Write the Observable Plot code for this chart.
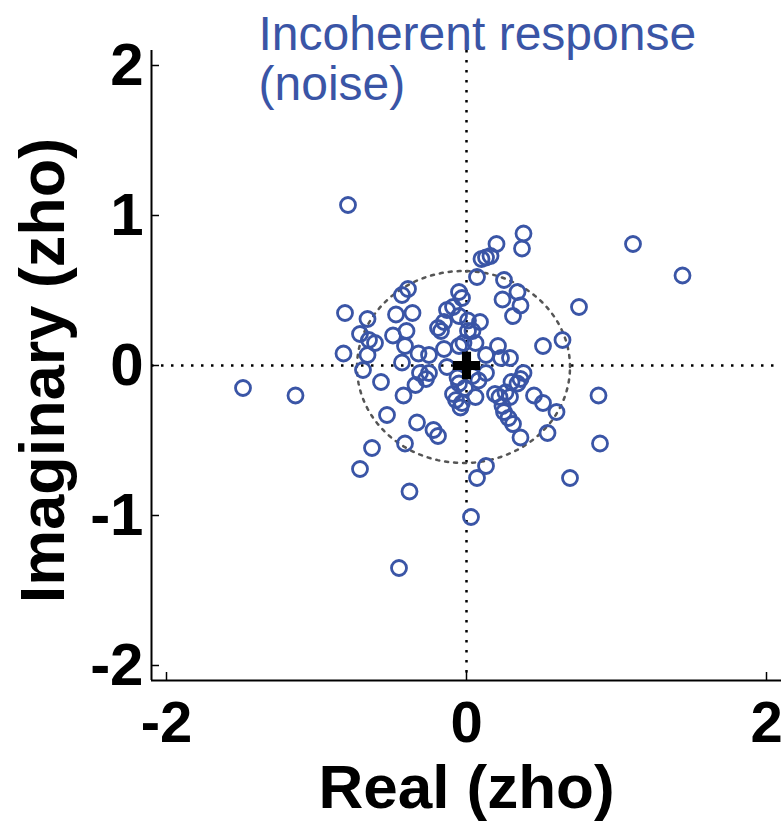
<!DOCTYPE html>
<html>
<head>
<meta charset="utf-8">
<script src="https://cdn.jsdelivr.net/npm/d3@7"></script>
<script src="https://cdn.jsdelivr.net/npm/@observablehq/plot@0.6"></script>
<style>
  html, body { margin: 0; padding: 0; background: #fff; }
</style>
</head>
<body>
<div id="chart"></div>
<script>
// Real and imaginary parts of each noise response (zho)
const re = [
  -0.79, -1.49, -1.14, 0.38, 0.37, 1.11, 1.44, 0.75, 0.88, 0.89,
  0.69, -0.38, 0.03, -0.45, -0.71, 0.07, 0.13, -0.81, -0.82, -0.39,
  -0.43, -0.66, -0.47, -0.36, -0.71, -0.49, -0.40, -0.65, -0.61, -0.41,
  -0.66, -0.32, -0.43, -0.69, -0.19, -0.15, -0.13, -0.09, -0.05, -0.03,
  -0.05, -0.15, 0.20, 0.10, 0.13, 0.16, 0.07, 0.25, 0.34, 0.24,
  0.36, 0.31, 0.09, 0.04, 0.01, 0.64, 0.51, 0.21, 0.29, 0.13,
  0.38, 0.30, 0.34, 0.36, 0.22, 0.45, 0.51, 0.60, 0.25, 0.28,
  0.31, 0.36, 0.54, -0.57, -0.42, -0.34, -0.27, -0.31, -0.25, -0.53,
  -0.33, -0.22, -0.19, -0.41, -0.63, -0.09, -0.07, -0.04, -0.05, -0.17,
  0.01, -0.05, -0.02, 0.06, 0.23, -0.25, -0.06, 0.04, 0.08, 0.13,
  -0.01, -0.03, 0.06, 0.26, 0.29, 0.24, -0.13, 0.19
];
const im = [
  1.07, -0.15, -0.20, 0.88, 0.78, 0.81, 0.60, 0.39, -0.20, -0.52,
  -0.75, -0.84, -1.01, -1.35, -0.69, -0.75, -0.67, 0.35, 0.08, 0.51,
  0.47, 0.31, 0.34, 0.35, 0.21, 0.20, 0.23, 0.17, 0.15, 0.13,
  0.07, 0.08, 0.02, -0.03, 0.25, 0.29, 0.37, 0.39, 0.49, 0.45,
  0.33, 0.11, 0.81, 0.71, 0.72, 0.73, 0.59, 0.57, 0.49, 0.44,
  0.40, 0.33, 0.29, 0.23, 0.30, 0.17, 0.13, 0.13, 0.05, 0.07,
  -0.05, -0.11, -0.12, -0.09, -0.21, -0.20, -0.25, -0.31, -0.31, -0.35,
  -0.39, -0.48, -0.45, -0.11, -0.20, -0.13, -0.09, -0.05, -0.05, -0.33,
  -0.38, -0.43, -0.47, -0.52, -0.55, -0.19, -0.23, -0.28, -0.12, 0.23,
  0.23, 0.13, 0.15, 0.15, 0.05, 0.07, -0.08, -0.07, -0.10, -0.05,
  -0.15, -0.25, -0.21, -0.18, -0.21, -0.27, -0.01, -0.19
];

// Mean response, marked with the black plus
const meanRe = [0];
const meanIm = [0];

// Spread ellipse around the mean (semi-axes in zho)
const ellipseCenter = [-0.02, -0.01];
const ellipseRadii = [0.71, 0.64];

// Axes
const xLimits = [-2.1, 2.1];
const yLimits = [-2.1, 2.1];
const xTicks = [-2, 0, 2];
const yTicks = [-2, -1, 0, 1, 2];
const xLabel = "Real (zho)";
const yLabel = "Imaginary (zho)";
const titleLines = ["Incoherent response", "(noise)"];

const blue = "#3a55a6";
const font = "'Liberation Sans', Arial, Helvetica, sans-serif";

const points = re.map((x, i) => ({x, y: im[i]}));
const mean = meanRe.map((x, i) => ({x, y: meanIm[i]}));
const ellipse = d3.range(0, 361, 2).map(deg => {
  const t = deg * Math.PI / 180;
  return {x: ellipseCenter[0] + ellipseRadii[0] * Math.cos(t),
          y: ellipseCenter[1] + ellipseRadii[1] * Math.sin(t)};
});

const chart = Plot.plot({
  width: 783,
  height: 822,
  marginLeft: 151,
  marginRight: 2,
  marginTop: 50,
  marginBottom: 142,
  style: {fontFamily: font, background: "#fff"},
  x: {domain: xLimits},
  y: {domain: yLimits},
  marks: [
    // dotted zero lines
    Plot.ruleY([0], {stroke: "#000", strokeWidth: 2.5, strokeDasharray: "2.5,7.5"}),
    Plot.ruleX([0], {stroke: "#000", strokeWidth: 2.5, strokeDasharray: "2.5,7.5"}),
    // spread ellipse
    Plot.line(ellipse, {x: "x", y: "y", stroke: "#555", strokeWidth: 2.5, strokeDasharray: "3,6"}),
    // individual responses
    Plot.dot(points, {x: "x", y: "y", r: 7.5, stroke: blue, strokeWidth: 2.8, fill: "none"}),
    // mean
    Plot.dot(mean, {x: "x", y: "y", symbol: "cross", r: 11.5, fill: "#000", stroke: null}),
    // axis lines
    Plot.ruleX([xLimits[0]], {stroke: "#000", strokeWidth: 2}),
    Plot.ruleY([yLimits[0]], {stroke: "#000", strokeWidth: 2}),
    // inward tick marks
    Plot.axisX(xTicks, {tickSize: -8, tickFormat: () => "", strokeWidth: 1.5, label: null}),
    Plot.axisY(yTicks, {tickSize: -8, tickFormat: () => "", strokeWidth: 1.5, label: null}),
    // tick labels
    Plot.axisX(xTicks, {tickSize: 0, tickPadding: 20, tickFormat: d => String(d),
      fontSize: 58, fontWeight: "bold", fill: "#000", label: null}),
    Plot.axisY(yTicks, {tickSize: 0, tickPadding: 8, tickFormat: d => String(d),
      fontSize: 60, fontWeight: "bold", fill: "#000", label: null}),
    // axis titles
    Plot.text([xLabel], {frameAnchor: "bottom", textAnchor: "middle", dy: 127,
      fontSize: 62, fontWeight: "bold", fill: "#000"}),
    Plot.text([yLabel], {frameAnchor: "left", textAnchor: "middle", dx: -108, dy: 5, rotate: -90,
      fontSize: 63, fontWeight: "bold", fill: "#000"}),
    // title
    Plot.text([titleLines.join("\n")], {frameAnchor: "top-left", textAnchor: "start", lineAnchor: "top",
      dx: 107, dy: -36, lineHeight: 1.04, fontSize: 48, fill: blue})
  ]
});

document.getElementById("chart").appendChild(chart);
</script>
</body>
</html>
